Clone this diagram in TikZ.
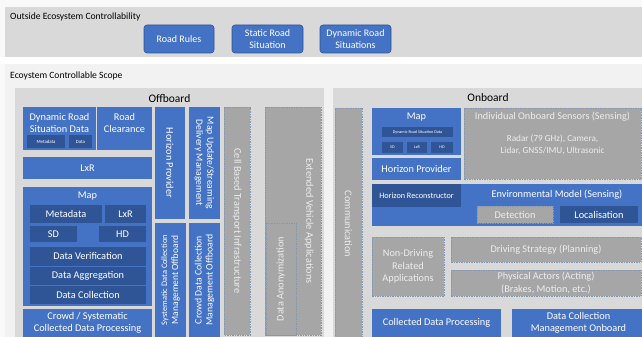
\documentclass[tikz,border=0pt]{standalone}
\usepackage{fontspec}
\setmainfont{Carlito}
\definecolor{cblue}{HTML}{4472C4}
\definecolor{cdark}{HTML}{2F5597}
\definecolor{cgrey}{HTML}{A6A6A6}
\definecolor{cdash}{HTML}{8497B0}
\definecolor{cpanel}{HTML}{D9D9D9}
\definecolor{clight}{HTML}{F2F2F2}
\definecolor{cgtext}{HTML}{EDEDED}
\newcommand\bx[7][]{%
  \pgfmathsetmacro\bw{#5-#3}\pgfmathsetmacro\bh{#6-#4}%
  \pgfmathsetmacro\cx{(#3+#5)/2}\pgfmathsetmacro\cy{-(#4+#6)/2}%
  \node[minimum width=\bw pt, minimum height=\bh pt, #1] (#2) at (\cx pt,\cy pt) {#7};}
\newcommand\vbx[7][]{%
  \pgfmathsetmacro\bw{#5-#3}\pgfmathsetmacro\bh{#6-#4}%
  \pgfmathsetmacro\cx{(#3+#5)/2}\pgfmathsetmacro\cy{-(#4+#6)/2}%
  \node[minimum width=\bh pt, minimum height=\bw pt, #1] (#2) at (\cx pt,\cy pt) {#7};}
\tikzset{
  base/.style={inner sep=1pt, outer sep=0pt, align=center, font=\fontsize{10.3}{12.3}\selectfont},
  bluebox/.style={base, fill=cblue, text=white},
  darkbox/.style={base, fill=cdark, text=white},
  greybox/.style={base, fill=cgrey, draw=cdash, line width=0.6pt, dash pattern=on 1.5pt off 1pt, text=cgtext},
  topbox/.style={bluebox, rounded corners=3pt, draw=cdark, line width=0.6pt, font=\fontsize{10}{12.5}\selectfont},
  panel/.style={inner sep=0pt, outer sep=0pt, fill=cpanel},
  wtext/.style={inner sep=0pt, align=center, text=white, font=\fontsize{10.3}{12.3}\selectfont},
  gtext/.style={inner sep=0pt, align=center, text=cgtext, font=\fontsize{10.3}{12.3}\selectfont},
  ktext/.style={inner sep=0pt, anchor=west, text=black, font=\fontsize{9.6}{11}\selectfont},
}
\begin{document}
\begin{tikzpicture}
\clip (0,0) rectangle (642pt,-337pt);
\fill[white!50!clight] (0,0) rectangle (642pt,-337pt);
% bands
\bx[panel]{outband}{5}{7}{645}{57}{}
\fill[white] (0,-57pt) rectangle (642pt,-64pt);
\bx[panel, fill=clight]{inband}{5}{64}{645}{340}{}
\node[ktext] (outT) at (10pt,-17pt) {Outside Ecosystem Controllability};
\node[ktext] (inT) at (10pt,-75.5pt) {Ecoystem Controllable Scope};
% top boxes
\bx[topbox]{rr}{144}{25}{214}{53}{Road Rules}
\bx[topbox]{srs}{232}{25}{303}{53}{Static Road\\Situation}
\bx[topbox]{drs}{320}{25}{391}{53}{Dynamic Road\\Situations}
% panels
\bx[panel]{off}{15}{88}{324}{345}{}
\bx[panel]{on}{333}{88}{650}{345}{}
\node[inner sep=0pt, font=\fontsize{11.5}{13}\selectfont] (offT) at (169.5pt,-98pt) {Offboard};
\node[inner sep=0pt, font=\fontsize{11.5}{13}\selectfont] (onT) at (488pt,-98pt) {Onboard};
% ---------- Offboard
\bx[bluebox]{drsd}{23}{107}{96}{150}{}
\node[wtext] (drsdT) at (59.5pt,-123pt) {Dynamic Road\\Situation Data};
\bx[darkbox, font=\fontsize{4.8}{5}\selectfont]{meta1}{27}{135}{65}{148}{Metadata}
\bx[darkbox, font=\fontsize{4.8}{5}\selectfont]{data1}{69}{135}{92}{148}{Data}
\bx[bluebox]{rc}{97}{107}{152}{150}{}
\node[wtext] (rcT) at (124.5pt,-123pt) {Road\\Clearance};
\bx[bluebox]{lxr}{23}{157}{152}{179}{LxR}
\bx[bluebox]{map}{23}{187}{152}{306}{}
\node[wtext] (mapT) at (87.5pt,-196pt) {Map};
\bx[darkbox]{meta2}{30}{205}{102}{223}{Metadata}
\bx[darkbox]{lxr2}{105}{205}{146}{223}{LxR}
\bx[darkbox]{sd}{30}{226}{77}{242}{SD}
\bx[darkbox]{hd}{99}{226}{146}{242}{HD}
\bx[darkbox]{dv}{30}{247}{146}{265.5}{Data Verification}
\bx[darkbox]{da}{30}{266.5}{146}{284.5}{Data Aggregation}
\bx[darkbox]{dc}{30}{285.5}{146}{304}{Data Collection}
\bx[bluebox]{cs}{23}{309}{152}{337}{Crowd / Systematic\\Collected Data Processing}
\vbx[bluebox, rotate=-90]{hp1}{155}{107}{185}{219}{Horizon Provider}
\vbx[bluebox, rotate=-90, font=\fontsize{9.6}{11}\selectfont]{mud}{189}{107}{220}{219}{Map Update/Streaming\\Delivery Management}
\vbx[greybox, rotate=-90]{cbt}{224}{107}{250}{335}{Cell Based Transport Infrastructure}
\bx[greybox]{eva}{265}{107}{321}{335}{}
\node[gtext, rotate=-90] (evaT) at (309pt,-221pt) {Extended Vehicle Applications};
\vbx[greybox, rotate=90]{dan}{266}{223}{296}{335}{Data Anonymization}
\vbx[bluebox, rotate=90, font=\fontsize{9.5}{11}\selectfont]{sdc}{155}{223}{186}{337}{{\fontsize{8.4}{11}\selectfont Systematic Data Collection}\\Management Offboard}
\vbx[bluebox, rotate=90, font=\fontsize{9.8}{11}\selectfont]{cdc}{189}{223}{220}{337}{Crowd Data Collection\\Management Offboard}
% ---------- Onboard
\vbx[greybox, rotate=-90]{com}{335}{108}{362}{340}{Communication}
\bx[bluebox]{map2}{372}{108}{461}{155}{}
\node[wtext] (map2T) at (416.5pt,-117pt) {Map};
\bx[darkbox, font=\fontsize{4.2}{5}\selectfont]{drsd2}{382}{127}{453}{137}{Dynamic Road Situation Data}
\bx[darkbox, font=\fontsize{4.2}{5}\selectfont]{sd2}{382}{142}{403}{153}{SD}
\bx[darkbox, font=\fontsize{4.2}{5}\selectfont]{lxr3}{407}{142}{427}{153}{LxR}
\bx[darkbox, font=\fontsize{4.2}{5}\selectfont]{hd2}{431}{142}{453}{153}{HD}
\bx[bluebox]{hp2}{372}{158}{461}{180}{Horizon Provider}
\bx[greybox]{ios}{464}{108}{641}{179}{}
\node[gtext] (iosT) at (552.5pt,-117pt) {Individual Onboard Sensors (Sensing)};
\node[gtext, font=\fontsize{9.2}{12}\selectfont] (iosB) at (552.5pt,-145pt) {Radar (79 GHz), Camera,\\Lidar, GNSS/IMU, Ultrasonic};
\bx[bluebox]{env}{372}{184}{645}{226}{}
\node[wtext] (envT) at (557pt,-195pt) {Environmental Model (Sensing)};
\bx[darkbox, font=\fontsize{8.2}{10}\selectfont]{hr}{372}{184}{461}{207}{Horizon Reconstructor}
\bx[greybox]{det}{477}{206}{553}{223}{Detection}
\bx[darkbox]{loc}{560}{206}{638}{223}{Localisation}
\bx[greybox]{ndr}{372}{237}{444}{296}{Non-Driving\\Related\\Applications}
\bx[greybox]{ds}{451}{237}{641}{262}{Driving Strategy (Planning)}
\bx[greybox]{pa}{451}{270}{641}{296}{Physical Actors (Acting)\\(Brakes, Motion, etc.)}
\bx[bluebox]{cdp}{372}{309}{501}{337}{Collected Data Processing}
\bx[bluebox]{dcm}{512}{309}{645}{337}{Data Collection\\Management Onboard}
\end{tikzpicture}
\end{document}
